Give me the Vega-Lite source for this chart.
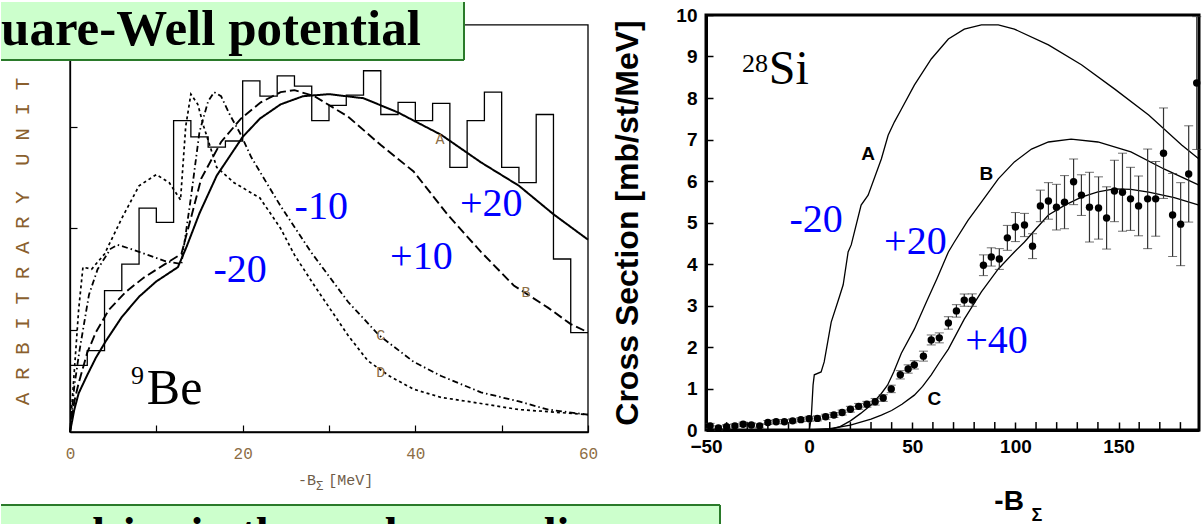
{
  "$schema": "https://vega.github.io/schema/vega-lite/v6.json",
  "usermeta": {"embedOptions": {"actions": false}},
  "padding": 0,
  "background": "white",
  "spacing": 118,
  "bounds": "flush",
  "config": {"view": {"stroke": null}, "axis": {"grid": false, "labelOverlap": false}, "font": "Liberation Sans"},
  "resolve": {"scale": {"x": "independent", "y": "independent", "strokeDash": "independent", "strokeWidth": "independent"}},
  "datasets": {
    "one": [{}],
    "hist": [
      {"x": 0, "v": 0.655}, {"x": 2, "v": 0.80}, {"x": 4, "v": 1.39}, {"x": 6, "v": 1.65}, {"x": 8, "v": 2.20},
      {"x": 10, "v": 2.06}, {"x": 12, "v": 3.06}, {"x": 14, "v": 2.90}, {"x": 16, "v": 2.80}, {"x": 18, "v": 2.86},
      {"x": 20, "v": 3.45}, {"x": 22, "v": 3.30}, {"x": 24, "v": 3.50}, {"x": 26, "v": 3.40}, {"x": 28, "v": 3.06},
      {"x": 30, "v": 3.21}, {"x": 32, "v": 3.31}, {"x": 34, "v": 3.55}, {"x": 36, "v": 3.12}, {"x": 38, "v": 3.24},
      {"x": 40, "v": 3.06}, {"x": 42, "v": 3.23}, {"x": 44, "v": 2.60}, {"x": 46, "v": 3.06}, {"x": 48, "v": 3.34},
      {"x": 50, "v": 2.60}, {"x": 52, "v": 2.45}, {"x": 54, "v": 3.12}, {"x": 56, "v": 1.70}, {"x": 58, "v": 0.976},
      {"x": 60, "v": 0.976}
    ],
    "leftCurves": [
      {"c": "A", "x": 0, "v": 0}, {"c": "A", "x": 0.5, "v": 0.22}, {"c": "A", "x": 1, "v": 0.38}, {"c": "A", "x": 2, "v": 0.56},
      {"c": "A", "x": 3, "v": 0.73}, {"c": "A", "x": 4.2, "v": 0.9}, {"c": "A", "x": 6, "v": 1.13}, {"c": "A", "x": 8, "v": 1.33},
      {"c": "A", "x": 10, "v": 1.48}, {"c": "A", "x": 12.5, "v": 1.62}, {"c": "A", "x": 13.5, "v": 1.82}, {"c": "A", "x": 15, "v": 2.15},
      {"c": "A", "x": 17, "v": 2.52}, {"c": "A", "x": 20, "v": 2.9}, {"c": "A", "x": 22, "v": 3.08}, {"c": "A", "x": 24.4, "v": 3.22},
      {"c": "A", "x": 27, "v": 3.3}, {"c": "A", "x": 30, "v": 3.32}, {"c": "A", "x": 34, "v": 3.28}, {"c": "A", "x": 38, "v": 3.14},
      {"c": "A", "x": 43, "v": 2.92}, {"c": "A", "x": 47.6, "v": 2.65}, {"c": "A", "x": 52, "v": 2.42}, {"c": "A", "x": 56, "v": 2.14},
      {"c": "A", "x": 60, "v": 1.89},
      {"c": "B", "x": 0, "v": 0}, {"c": "B", "x": 0.5, "v": 0.3}, {"c": "B", "x": 1, "v": 0.48}, {"c": "B", "x": 2, "v": 0.78},
      {"c": "B", "x": 3, "v": 0.98}, {"c": "B", "x": 4.5, "v": 1.2}, {"c": "B", "x": 6.5, "v": 1.38}, {"c": "B", "x": 8.6, "v": 1.52},
      {"c": "B", "x": 11, "v": 1.65}, {"c": "B", "x": 12.9, "v": 1.75}, {"c": "B", "x": 14, "v": 2.1}, {"c": "B", "x": 15.2, "v": 2.49},
      {"c": "B", "x": 17.5, "v": 2.85}, {"c": "B", "x": 19.8, "v": 3.08}, {"c": "B", "x": 22.1, "v": 3.24}, {"c": "B", "x": 24.4, "v": 3.34},
      {"c": "B", "x": 26, "v": 3.36}, {"c": "B", "x": 28.3, "v": 3.3}, {"c": "B", "x": 32.2, "v": 3.1}, {"c": "B", "x": 36, "v": 2.82},
      {"c": "B", "x": 39.8, "v": 2.56}, {"c": "B", "x": 43.8, "v": 2.13}, {"c": "B", "x": 47.6, "v": 1.77}, {"c": "B", "x": 51.4, "v": 1.44},
      {"c": "B", "x": 55.4, "v": 1.22}, {"c": "B", "x": 58, "v": 1.06}, {"c": "B", "x": 60, "v": 0.98},
      {"c": "C", "x": 0, "v": 0}, {"c": "C", "x": 0.5, "v": 0.45}, {"c": "C", "x": 1.1, "v": 0.8}, {"c": "C", "x": 2.2, "v": 1.35},
      {"c": "C", "x": 3.2, "v": 1.6}, {"c": "C", "x": 4.7, "v": 1.8}, {"c": "C", "x": 5.5, "v": 1.84}, {"c": "C", "x": 7, "v": 1.8},
      {"c": "C", "x": 9, "v": 1.74}, {"c": "C", "x": 11, "v": 1.68}, {"c": "C", "x": 12.9, "v": 1.65}, {"c": "C", "x": 14, "v": 2.3},
      {"c": "C", "x": 15, "v": 2.95}, {"c": "C", "x": 16, "v": 3.25}, {"c": "C", "x": 16.7, "v": 3.34}, {"c": "C", "x": 17.5, "v": 3.3},
      {"c": "C", "x": 18.5, "v": 3.12}, {"c": "C", "x": 19.8, "v": 2.92}, {"c": "C", "x": 21, "v": 2.7}, {"c": "C", "x": 22.9, "v": 2.43},
      {"c": "C", "x": 24.4, "v": 2.22}, {"c": "C", "x": 27.9, "v": 1.77}, {"c": "C", "x": 32.2, "v": 1.28}, {"c": "C", "x": 35.8, "v": 0.95},
      {"c": "C", "x": 39.8, "v": 0.69}, {"c": "C", "x": 43, "v": 0.55}, {"c": "C", "x": 47.6, "v": 0.39}, {"c": "C", "x": 52, "v": 0.3},
      {"c": "C", "x": 55.4, "v": 0.22}, {"c": "C", "x": 60, "v": 0.17},
      {"c": "D", "x": 0, "v": 0}, {"c": "D", "x": 0.5, "v": 0.6}, {"c": "D", "x": 1, "v": 1.2}, {"c": "D", "x": 1.5, "v": 1.62},
      {"c": "D", "x": 2.5, "v": 1.6}, {"c": "D", "x": 4, "v": 1.75}, {"c": "D", "x": 6, "v": 2.1}, {"c": "D", "x": 8, "v": 2.42},
      {"c": "D", "x": 10, "v": 2.53}, {"c": "D", "x": 11.5, "v": 2.45}, {"c": "D", "x": 12.8, "v": 2.28}, {"c": "D", "x": 13.4, "v": 3.0},
      {"c": "D", "x": 14, "v": 3.32}, {"c": "D", "x": 14.8, "v": 3.22}, {"c": "D", "x": 15.5, "v": 3.0}, {"c": "D", "x": 17, "v": 2.6},
      {"c": "D", "x": 19, "v": 2.45}, {"c": "D", "x": 22, "v": 2.3}, {"c": "D", "x": 24.4, "v": 2.0}, {"c": "D", "x": 26, "v": 1.74},
      {"c": "D", "x": 28.3, "v": 1.44}, {"c": "D", "x": 32.2, "v": 0.95}, {"c": "D", "x": 34.5, "v": 0.7}, {"c": "D", "x": 37, "v": 0.55},
      {"c": "D", "x": 39.8, "v": 0.42}, {"c": "D", "x": 43, "v": 0.34}, {"c": "D", "x": 47.6, "v": 0.28}, {"c": "D", "x": 52, "v": 0.22},
      {"c": "D", "x": 55.4, "v": 0.2}, {"c": "D", "x": 60, "v": 0.17}
    ],
    "leftLetters": [
      {"t": "A", "x": 42.86, "v": 2.88}, {"t": "B", "x": 52.82, "v": 1.38},
      {"t": "C", "x": 36.0, "v": 0.95}, {"t": "D", "x": 36.0, "v": 0.59}
    ],
    "leftBlue": [
      {"t": "-20", "x": 19.7, "v": 1.59}, {"t": "-10", "x": 29.1, "v": 2.21},
      {"t": "+10", "x": 40.7, "v": 1.72}, {"t": "+20", "x": 48.8, "v": 2.24}
    ],
    "rightMinorX": [
      {"x": -40}, {"x": -30}, {"x": -20}, {"x": -10}, {"x": 10}, {"x": 20}, {"x": 30}, {"x": 40},
      {"x": 60}, {"x": 70}, {"x": 80}, {"x": 90}, {"x": 110}, {"x": 120}, {"x": 130}, {"x": 140},
      {"x": 160}, {"x": 170}, {"x": 180}
    ],
    "rightCurves": [
      {"c": "A", "x": 0, "y": 0}, {"c": "A", "x": 1, "y": 0.27}, {"c": "A", "x": 1.9, "y": 1.08}, {"c": "A", "x": 2.5, "y": 1.33},
      {"c": "A", "x": 5.8, "y": 1.4}, {"c": "A", "x": 7.3, "y": 1.64}, {"c": "A", "x": 10.7, "y": 2.6}, {"c": "A", "x": 14.6, "y": 3.2},
      {"c": "A", "x": 16.5, "y": 3.5}, {"c": "A", "x": 18.9, "y": 4.29}, {"c": "A", "x": 20.4, "y": 4.46}, {"c": "A", "x": 25.2, "y": 5.42},
      {"c": "A", "x": 28.6, "y": 5.66}, {"c": "A", "x": 35, "y": 6.53}, {"c": "A", "x": 38.3, "y": 7.1}, {"c": "A", "x": 41.3, "y": 7.42},
      {"c": "A", "x": 44.7, "y": 7.73}, {"c": "A", "x": 51, "y": 8.31}, {"c": "A", "x": 59.2, "y": 8.94}, {"c": "A", "x": 67.5, "y": 9.42},
      {"c": "A", "x": 75.2, "y": 9.66}, {"c": "A", "x": 83.5, "y": 9.76}, {"c": "A", "x": 91.7, "y": 9.76}, {"c": "A", "x": 99.5, "y": 9.66},
      {"c": "A", "x": 116, "y": 9.28}, {"c": "A", "x": 132, "y": 8.8}, {"c": "A", "x": 148, "y": 8.22}, {"c": "A", "x": 164.6, "y": 7.59},
      {"c": "A", "x": 180.6, "y": 6.87}, {"c": "A", "x": 189, "y": 6.53},
      {"c": "B", "x": 0, "y": 0}, {"c": "B", "x": 10, "y": 0.01}, {"c": "B", "x": 15, "y": 0.08}, {"c": "B", "x": 20, "y": 0.22},
      {"c": "B", "x": 25, "y": 0.4}, {"c": "B", "x": 30, "y": 0.6}, {"c": "B", "x": 35, "y": 0.88}, {"c": "B", "x": 38, "y": 1.08},
      {"c": "B", "x": 41, "y": 1.4}, {"c": "B", "x": 44.7, "y": 1.85}, {"c": "B", "x": 51, "y": 2.43}, {"c": "B", "x": 57, "y": 3.1},
      {"c": "B", "x": 62, "y": 3.65}, {"c": "B", "x": 67.5, "y": 4.29}, {"c": "B", "x": 70.4, "y": 4.53}, {"c": "B", "x": 77, "y": 5.05},
      {"c": "B", "x": 83.5, "y": 5.49}, {"c": "B", "x": 91.7, "y": 6.05}, {"c": "B", "x": 99.5, "y": 6.46}, {"c": "B", "x": 107.8, "y": 6.77},
      {"c": "B", "x": 116, "y": 6.94}, {"c": "B", "x": 127, "y": 7.01}, {"c": "B", "x": 140, "y": 6.94}, {"c": "B", "x": 156, "y": 6.7},
      {"c": "B", "x": 172, "y": 6.29}, {"c": "B", "x": 189, "y": 5.9},
      {"c": "C", "x": 0, "y": 0}, {"c": "C", "x": 10, "y": 0.03}, {"c": "C", "x": 20, "y": 0.12}, {"c": "C", "x": 30, "y": 0.26},
      {"c": "C", "x": 35, "y": 0.36}, {"c": "C", "x": 40, "y": 0.47}, {"c": "C", "x": 45, "y": 0.62}, {"c": "C", "x": 51, "y": 0.84},
      {"c": "C", "x": 55, "y": 1.05}, {"c": "C", "x": 59.2, "y": 1.33}, {"c": "C", "x": 63, "y": 1.62}, {"c": "C", "x": 67.5, "y": 1.95},
      {"c": "C", "x": 75.2, "y": 2.67}, {"c": "C", "x": 83.5, "y": 3.33}, {"c": "C", "x": 91.7, "y": 3.88}, {"c": "C", "x": 99.5, "y": 4.29},
      {"c": "C", "x": 104.4, "y": 4.53}, {"c": "C", "x": 110, "y": 4.85}, {"c": "C", "x": 116, "y": 5.18}, {"c": "C", "x": 124, "y": 5.42},
      {"c": "C", "x": 132, "y": 5.61}, {"c": "C", "x": 140, "y": 5.74}, {"c": "C", "x": 148, "y": 5.81}, {"c": "C", "x": 156, "y": 5.8},
      {"c": "C", "x": 164.6, "y": 5.73}, {"c": "C", "x": 177, "y": 5.6}, {"c": "C", "x": 189, "y": 5.42}
    ],
    "sigma": [
      {"x": -48, "y": 0.10, "e": 0.06}, {"x": -44, "y": 0.05, "e": 0.05}, {"x": -40, "y": 0.08, "e": 0.05},
      {"x": -36, "y": 0.10, "e": 0.05}, {"x": -32, "y": 0.14, "e": 0.05}, {"x": -28, "y": 0.12, "e": 0.05},
      {"x": -24, "y": 0.10, "e": 0.05}, {"x": -20, "y": 0.18, "e": 0.05}, {"x": -16, "y": 0.20, "e": 0.05},
      {"x": -12, "y": 0.20, "e": 0.05}, {"x": -8, "y": 0.22, "e": 0.05}, {"x": -4, "y": 0.25, "e": 0.05},
      {"x": 0, "y": 0.27, "e": 0.06}, {"x": 4, "y": 0.28, "e": 0.06}, {"x": 8, "y": 0.32, "e": 0.06},
      {"x": 12, "y": 0.36, "e": 0.06}, {"x": 16, "y": 0.42, "e": 0.06}, {"x": 20, "y": 0.50, "e": 0.07},
      {"x": 24, "y": 0.57, "e": 0.07}, {"x": 28, "y": 0.62, "e": 0.07}, {"x": 32, "y": 0.68, "e": 0.08},
      {"x": 35.9, "y": 0.77, "e": 0.08}, {"x": 39.8, "y": 0.99, "e": 0.09}, {"x": 44.2, "y": 1.33, "e": 0.1},
      {"x": 48, "y": 1.47, "e": 0.1}, {"x": 51, "y": 1.57, "e": 0.1}, {"x": 55.4, "y": 1.78, "e": 0.12},
      {"x": 59.2, "y": 2.17, "e": 0.12}, {"x": 63.1, "y": 2.22, "e": 0.12}, {"x": 67.5, "y": 2.58, "e": 0.15},
      {"x": 71.4, "y": 2.87, "e": 0.15}, {"x": 75.2, "y": 3.13, "e": 0.15}, {"x": 79.1, "y": 3.13, "e": 0.15},
      {"x": 84.5, "y": 3.97, "e": 0.25}, {"x": 88.3, "y": 4.17, "e": 0.22}, {"x": 92.2, "y": 4.12, "e": 0.25},
      {"x": 96.1, "y": 4.63, "e": 0.3}, {"x": 100, "y": 4.89, "e": 0.35}, {"x": 104.4, "y": 4.94, "e": 0.28},
      {"x": 108.3, "y": 4.43, "e": 0.3}, {"x": 112.1, "y": 5.40, "e": 0.38}, {"x": 116, "y": 5.52, "e": 0.44},
      {"x": 119.9, "y": 5.37, "e": 0.55}, {"x": 123.8, "y": 5.49, "e": 0.64}, {"x": 128.2, "y": 5.98, "e": 0.55},
      {"x": 132, "y": 5.66, "e": 0.49}, {"x": 135.9, "y": 5.37, "e": 0.84}, {"x": 140.3, "y": 5.35, "e": 0.75},
      {"x": 144.2, "y": 5.11, "e": 0.75}, {"x": 148, "y": 5.76, "e": 0.74}, {"x": 151.9, "y": 5.73, "e": 0.94},
      {"x": 155.8, "y": 5.57, "e": 0.76}, {"x": 159.7, "y": 5.40, "e": 0.72}, {"x": 164.1, "y": 5.57, "e": 1.2},
      {"x": 168, "y": 5.57, "e": 0.9}, {"x": 171.8, "y": 6.67, "e": 1.09}, {"x": 176.2, "y": 5.18, "e": 1.0},
      {"x": 180.1, "y": 4.96, "e": 1.0}, {"x": 184, "y": 6.17, "e": 1.16}, {"x": 187.9, "y": 8.36, "e": 1.6}
    ],
    "rightLetters": [
      {"t": "A", "x": 28.6, "y": 6.65}, {"t": "B", "x": 85.9, "y": 6.17}, {"t": "C", "x": 60.7, "y": 0.75}
    ],
    "rightBlue": [
      {"t": "-20", "x": 3.4, "y": 5.06}, {"t": "+20", "x": 51.5, "y": 4.53}, {"t": "+40", "x": 90.8, "y": 2.14}
    ]
  },
  "hconcat": [
    {
      "width": 518,
      "height": 417,
      "layer": [
        {
          "data": {"name": "hist"},
          "mark": {"type": "line", "interpolate": "step-after", "color": "black", "strokeWidth": 1.3},
          "encoding": {
            "x": {"field": "x", "type": "quantitative", "scale": {"domain": [0, 60], "nice": false, "zero": false},
              "axis": {"values": [0, 10, 20, 30, 40, 50, 60], "labelExpr": "datum.value % 20 === 0 ? datum.label : ''",
                "tickSize": -7, "tickColor": "black", "tickWidth": 1.2, "labelPadding": 20, "labelFont": "Liberation Mono",
                "labelFontSize": 16, "labelColor": "#8c6d45", "labelFlush": false, "labelOverlap": false, "title": null,
                "domainColor": "black", "domainWidth": 1.3}},
            "y": {"field": "v", "type": "quantitative", "scale": {"domain": [0, 4.098], "nice": false, "zero": false},
              "axis": {"values": [1, 2, 3], "labels": false, "tickSize": -7, "tickColor": "black", "tickWidth": 1.2,
                "domainColor": "black", "domainWidth": 1.3,
                "title": "A\u00a0R\u00a0B\u00a0I\u00a0T\u00a0R\u00a0A\u00a0R\u00a0Y\u00a0\u00a0U\u00a0N\u00a0I\u00a0T",
                "titleFont": "Liberation Mono", "titleFontSize": 21, "titleFontWeight": "normal", "titleColor": "#8a5f2e",
                "titlePadding": 37, "titleY": 226}}
          }
        },
        {
          "data": {"name": "leftCurves"},
          "mark": {"type": "line", "color": "black"},
          "encoding": {
            "x": {"field": "x", "type": "quantitative"},
            "y": {"field": "v", "type": "quantitative"},
            "detail": {"field": "c", "type": "nominal"},
            "strokeDash": {"field": "c", "type": "nominal", "legend": null,
              "scale": {"domain": ["A", "B", "C", "D"], "range": [[1, 0], [9, 4], [6, 3, 1.5, 3], [3, 3]]}},
            "strokeWidth": {"field": "c", "type": "nominal", "legend": null,
              "scale": {"domain": ["A", "B", "C", "D"], "range": [2, 1.7, 1.3, 1.4]}}
          }
        },
        {
          "data": {"name": "one"},
          "mark": {"type": "rect", "filled": false, "stroke": "black", "strokeWidth": 1.3},
          "encoding": {
            "x": {"datum": 0, "type": "quantitative"}, "x2": {"datum": 60},
            "y": {"datum": 0, "type": "quantitative"}, "y2": {"datum": 4}
          }
        },
        {
          "data": {"name": "leftLetters"},
          "mark": {"type": "text", "font": "Liberation Mono", "fontSize": 15, "color": "#8c6d45", "align": "center", "baseline": "middle"},
          "encoding": {
            "x": {"field": "x", "type": "quantitative"},
            "y": {"field": "v", "type": "quantitative"},
            "text": {"field": "t"}
          }
        },
        {
          "data": {"name": "leftBlue"},
          "mark": {"type": "text", "font": "Liberation Serif", "fontSize": 40, "color": "#0000ff", "align": "center", "baseline": "middle"},
          "encoding": {
            "x": {"field": "x", "type": "quantitative"},
            "y": {"field": "v", "type": "quantitative"},
            "text": {"field": "t"}
          }
        },
        {
          "data": {"name": "one"},
          "mark": {"type": "text", "text": "Be", "font": "Liberation Serif", "fontSize": 50, "color": "black", "align": "left", "baseline": "alphabetic"},
          "encoding": {"x": {"datum": 8.9, "type": "quantitative"}, "y": {"datum": 0.275, "type": "quantitative"}}
        },
        {
          "data": {"name": "one"},
          "mark": {"type": "text", "text": "9", "font": "Liberation Serif", "fontSize": 26, "color": "black", "align": "left", "baseline": "alphabetic"},
          "encoding": {"x": {"datum": 7.07, "type": "quantitative"}, "y": {"datum": 0.47, "type": "quantitative"}}
        },
        {
          "data": {"name": "one"},
          "mark": {"type": "text", "text": "-B", "font": "Liberation Mono", "fontSize": 15, "color": "#6e5c48", "align": "left", "baseline": "alphabetic"},
          "encoding": {"x": {"datum": 26.4, "type": "quantitative"}, "y": {"datum": -0.521, "type": "quantitative"}}
        },
        {
          "data": {"name": "one"},
          "mark": {"type": "text", "text": "Σ", "font": "Liberation Mono", "fontSize": 12, "color": "#6e5c48", "align": "left", "baseline": "alphabetic"},
          "encoding": {"x": {"datum": 28.5, "type": "quantitative"}, "y": {"datum": -0.57, "type": "quantitative"}}
        },
        {
          "data": {"name": "one"},
          "mark": {"type": "text", "text": "[MeV]", "font": "Liberation Mono", "fontSize": 15, "color": "#6e5c48", "align": "left", "baseline": "alphabetic"},
          "encoding": {"x": {"datum": 29.9, "type": "quantitative"}, "y": {"datum": -0.521, "type": "quantitative"}}
        },
        {
          "data": {"name": "one"},
          "mark": {"type": "rect", "fill": "#ccffcc", "stroke": null},
          "encoding": {
            "x": {"datum": -7.99, "type": "quantitative"}, "x2": {"datum": 45.64},
            "y": {"datum": 4.226, "type": "quantitative"}, "y2": {"datum": 3.656}
          }
        },
        {
          "data": {"name": "one"},
          "mark": {"type": "rule", "color": "#2a7a2a", "strokeWidth": 2},
          "encoding": {
            "x": {"datum": -7.99, "type": "quantitative"}, "x2": {"datum": 45.64},
            "y": {"datum": 3.656, "type": "quantitative"}
          }
        },
        {
          "data": {"name": "one"},
          "mark": {"type": "rule", "color": "#2a7a2a", "strokeWidth": 2},
          "encoding": {
            "x": {"datum": 45.64, "type": "quantitative"},
            "y": {"datum": 4.226, "type": "quantitative"}, "y2": {"datum": 3.656}
          }
        },
        {
          "data": {"name": "one"},
          "mark": {"type": "text", "text": "uare-Well potential", "font": "Liberation Serif", "fontWeight": "bold", "fontSize": 51, "color": "black", "align": "left", "baseline": "alphabetic"},
          "encoding": {"x": {"datum": -7.99, "type": "quantitative"}, "y": {"datum": 3.803, "type": "quantitative"}}
        },
        {
          "data": {"name": "one"},
          "mark": {"type": "rect", "fill": "#ccffcc", "stroke": null},
          "encoding": {
            "x": {"datum": -7.99, "type": "quantitative"}, "x2": {"datum": 75.29},
            "y": {"datum": -0.717, "type": "quantitative"}, "y2": {"datum": -1.0}
          }
        },
        {
          "data": {"name": "one"},
          "mark": {"type": "rule", "color": "#2a7a2a", "strokeWidth": 2},
          "encoding": {
            "x": {"datum": -7.99, "type": "quantitative"}, "x2": {"datum": 75.29},
            "y": {"datum": -0.717, "type": "quantitative"}
          }
        },
        {
          "data": {"name": "one"},
          "mark": {"type": "rule", "color": "#2a7a2a", "strokeWidth": 2},
          "encoding": {
            "x": {"datum": 75.29, "type": "quantitative"},
            "y": {"datum": -0.717, "type": "quantitative"}, "y2": {"datum": -1.0}
          }
        },
        {
          "data": {"name": "one"},
          "mark": {"type": "text", "text": "repulsive in the nuclear medium", "font": "Liberation Serif", "fontWeight": "bold", "fontSize": 46, "color": "black", "align": "left", "baseline": "alphabetic"},
          "encoding": {"x": {"datum": -7.99, "type": "quantitative"}, "y": {"datum": -1.15, "type": "quantitative"}}
        }
      ]
    },
    {
      "width": 493,
      "height": 415,
      "view": {"stroke": "black", "strokeWidth": 3},
      "layer": [
        {
          "data": {"name": "rightCurves"},
          "mark": {"type": "line", "color": "black", "strokeWidth": 1.3},
          "encoding": {
            "x": {"field": "x", "type": "quantitative", "scale": {"domain": [-50, 189], "nice": false, "zero": false},
              "axis": {"values": [-50, 0, 50, 100, 150], "tickSize": -8, "tickColor": "black", "tickWidth": 1.5,
                "labelPadding": 15, "labelFont": "Liberation Sans", "labelFontWeight": "bold", "labelFontSize": 19, "labelColor": "black",
                "labelFlush": false, "labelOverlap": false, "labelBound": false, "title": null, "domainColor": "black", "domainWidth": 3}},
            "y": {"field": "y", "type": "quantitative", "scale": {"domain": [0, 10], "nice": false, "zero": false},
              "axis": {"values": [0, 0.5, 1, 1.5, 2, 2.5, 3, 3.5, 4, 4.5, 5, 5.5, 6, 6.5, 7, 7.5, 8, 8.5, 9, 9.5, 10],
                "labelExpr": "datum.value % 1 === 0 ? datum.label : ''", "tickSize": -7, "tickColor": "black", "tickWidth": 1.5,
                "labelPadding": 16, "labelFont": "Liberation Sans", "labelFontWeight": "bold", "labelFontSize": 19, "labelColor": "black",
                "labelFlush": false, "labelOverlap": false, "labelBound": false, "domainColor": "black", "domainWidth": 3,
                "title": "Cross Section [mb/st/MeV]", "titleFont": "Liberation Sans", "titleFontWeight": "bold", "titleFontSize": 32,
                "titleColor": "black", "titlePadding": 31}},
            "detail": {"field": "c", "type": "nominal"}
          }
        },
        {
          "data": {"name": "rightMinorX"},
          "mark": {"type": "rule", "color": "black", "strokeWidth": 1.5},
          "encoding": {
            "x": {"field": "x", "type": "quantitative"},
            "y": {"datum": 0, "type": "quantitative"},
            "y2": {"datum": 0.19}
          }
        },
        {
          "data": {"name": "sigma"},
          "mark": {"type": "errorbar", "ticks": {"size": 9, "color": "#333333", "strokeWidth": 1}, "rule": {"color": "#333333", "strokeWidth": 1.2}},
          "encoding": {
            "x": {"field": "x", "type": "quantitative", "title": null,
              "axis": {"values": [-50, 0, 50, 100, 150], "tickSize": -8, "tickColor": "black", "tickWidth": 1.5,
                "labelPadding": 15, "labelFont": "Liberation Sans", "labelFontWeight": "bold", "labelFontSize": 19, "labelColor": "black",
                "labelFlush": false, "labelOverlap": false, "labelBound": false, "title": null, "domainColor": "black", "domainWidth": 3}},
            "y": {"field": "y", "type": "quantitative", "title": "Cross Section [mb/st/MeV]",
              "axis": {"values": [0, 0.5, 1, 1.5, 2, 2.5, 3, 3.5, 4, 4.5, 5, 5.5, 6, 6.5, 7, 7.5, 8, 8.5, 9, 9.5, 10],
                "labelExpr": "datum.value % 1 === 0 ? datum.label : ''", "tickSize": -7, "tickColor": "black", "tickWidth": 1.5,
                "labelPadding": 16, "labelFont": "Liberation Sans", "labelFontWeight": "bold", "labelFontSize": 19, "labelColor": "black",
                "labelFlush": false, "labelOverlap": false, "labelBound": false, "domainColor": "black", "domainWidth": 3,
                "title": "Cross Section [mb/st/MeV]", "titleFont": "Liberation Sans", "titleFontWeight": "bold", "titleFontSize": 32,
                "titleColor": "black", "titlePadding": 31}},
            "yError": {"field": "e"}
          }
        },
        {
          "data": {"name": "sigma"},
          "mark": {"type": "point", "filled": true, "size": 55, "color": "black", "opacity": 1},
          "encoding": {
            "x": {"field": "x", "type": "quantitative"},
            "y": {"field": "y", "type": "quantitative"}
          }
        },
        {
          "data": {"name": "rightLetters"},
          "mark": {"type": "text", "font": "Liberation Sans", "fontWeight": "bold", "fontSize": 19, "color": "black", "align": "center", "baseline": "middle"},
          "encoding": {
            "x": {"field": "x", "type": "quantitative"},
            "y": {"field": "y", "type": "quantitative"},
            "text": {"field": "t"}
          }
        },
        {
          "data": {"name": "rightBlue"},
          "mark": {"type": "text", "font": "Liberation Serif", "fontSize": 40, "color": "#0000ff", "align": "center", "baseline": "middle"},
          "encoding": {
            "x": {"field": "x", "type": "quantitative"},
            "y": {"field": "y", "type": "quantitative"},
            "text": {"field": "t"}
          }
        },
        {
          "data": {"name": "one"},
          "mark": {"type": "text", "text": "Si", "font": "Liberation Serif", "fontSize": 48, "color": "black", "align": "left", "baseline": "alphabetic"},
          "encoding": {"x": {"datum": -19.6, "type": "quantitative"}, "y": {"datum": 8.34, "type": "quantitative"}}
        },
        {
          "data": {"name": "one"},
          "mark": {"type": "text", "text": "28", "font": "Liberation Serif", "fontSize": 26, "color": "black", "align": "left", "baseline": "alphabetic"},
          "encoding": {"x": {"datum": -32.6, "type": "quantitative"}, "y": {"datum": 8.63, "type": "quantitative"}}
        },
        {
          "data": {"name": "one"},
          "mark": {"type": "text", "text": "-B", "font": "Liberation Sans", "fontWeight": "bold", "fontSize": 28, "color": "black", "align": "left", "baseline": "alphabetic"},
          "encoding": {"x": {"datum": 89.8, "type": "quantitative"}, "y": {"datum": -1.93, "type": "quantitative"}}
        },
        {
          "data": {"name": "one"},
          "mark": {"type": "text", "text": "Σ", "font": "Liberation Sans", "fontWeight": "bold", "fontSize": 18, "color": "black", "align": "left", "baseline": "alphabetic"},
          "encoding": {"x": {"datum": 107.8, "type": "quantitative"}, "y": {"datum": -2.19, "type": "quantitative"}}
        }
      ]
    }
  ]
}
